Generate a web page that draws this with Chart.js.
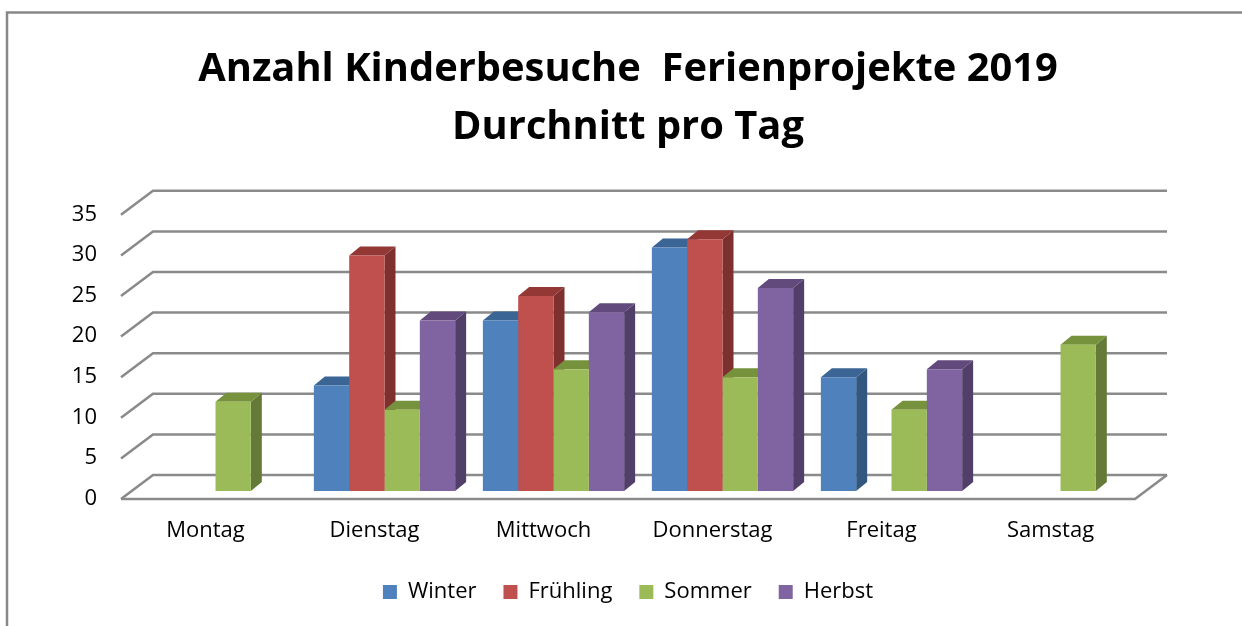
<!DOCTYPE html>
<html>
<head>
<meta charset="utf-8">
<script src="https://cdn.jsdelivr.net/npm/chart.js@4/dist/chart.umd.min.js"></script>
<style>
  html, body { margin: 0; padding: 0; background: #fff; }
  canvas { display: block; }
</style>
</head>
<body>
<canvas id="c" width="1242" height="626"></canvas>
<script>
// ---- data ----
const categories = ['Montag', 'Dienstag', 'Mittwoch', 'Donnerstag', 'Freitag', 'Samstag'];
const seriesNames = ['Winter', 'Frühling', 'Sommer', 'Herbst'];
const winter    = [null, 13, 21, 30, 14, null];
const fruehling = [null, 29, 24, 31, null, null];
const sommer    = [11, 10, 15, 14, 10, 18];
const herbst    = [null, 21, 22, 25, 15, null];
const yMin = 0, yMax = 35, yStep = 5;
const titleLines = ['Anzahl Kinderbesuche  Ferienprojekte 2019', 'Durchnitt pro Tag'];

// ---- styles ----
const FONT = "'Open Sans', 'Noto Sans', sans-serif";
const faces = [
  { front: '#4f81bd', top: '#3b6594', side: '#33587f' },
  { front: '#c0504d', top: '#943836', side: '#7d302e' },
  { front: '#9bbb59', top: '#77923d', side: '#657a38' },
  { front: '#8064a2', top: '#624a7c', side: '#513f69' }
];
const seriesData = [winter, fruehling, sommer, herbst];

function fitSize(text, weight, target) {
  const c = document.createElement('canvas').getContext('2d');
  c.font = weight + ' 100px ' + FONT;
  return 100 * target / c.measureText(text).width;
}
const titleSize = fitSize(titleLines[0], 'bold', 860);

const GRID = '#8a8a8a';
const FX = -10, FY = 8, BX = 22, BY = -16;   // wall depth offsets
const DX = 11, DY = -9;                       // bar depth

const threeD = {
  id: 'threeD',
  beforeDraw(chart) {
    const ctx = chart.ctx;
    ctx.save();
    ctx.fillStyle = '#fff';
    ctx.fillRect(0, 0, chart.width, chart.height);
    ctx.strokeStyle = '#888';
    ctx.lineWidth = 2.5;
    ctx.beginPath();
    ctx.moveTo(7, chart.height + 5);
    ctx.lineTo(7, 12.5);
    ctx.lineTo(chart.width + 5, 12.5);
    ctx.stroke();
    ctx.restore();
  },
  beforeDatasetsDraw(chart) {
    const ctx = chart.ctx;
    const ys = chart.scales.y;
    const ca = chart.chartArea;
    ctx.save();
    ctx.strokeStyle = GRID;
    ctx.lineWidth = 2.5;
    ctx.lineCap = 'butt';
    for (let v = yMin; v <= yMax; v += yStep) {
      const yb = ys.getPixelForValue(v);
      ctx.beginPath();
      ctx.moveTo(ca.left + FX, yb + FY);
      ctx.lineTo(ca.left + BX, yb + BY);
      ctx.lineTo(ca.right + BX, yb + BY);
      ctx.stroke();
    }
    const y0 = ys.getPixelForValue(yMin);
    ctx.beginPath();
    ctx.moveTo(ca.left + FX, y0 + FY);
    ctx.lineTo(ca.right + FX, y0 + FY);
    ctx.lineTo(ca.right + BX, y0 + BY);
    ctx.stroke();

    // bar tops and sides
    const n = categories.length;
    for (let i = 0; i < n; i++) {
      for (let d = 0; d < chart.data.datasets.length; d++) {
        const val = chart.data.datasets[d].data[i];
        if (val === null || val === undefined) continue;
        const el = chart.getDatasetMeta(d).data[i];
        const p = el.getProps(['x', 'y', 'base', 'width'], true);
        const l = p.x - p.width / 2, r = p.x + p.width / 2, t = p.y, b = p.base;
        ctx.fillStyle = faces[d].side;
        ctx.beginPath();
        ctx.moveTo(r, t); ctx.lineTo(r + DX, t + DY); ctx.lineTo(r + DX, b + DY); ctx.lineTo(r, b);
        ctx.closePath(); ctx.fill();
        ctx.fillStyle = faces[d].top;
        ctx.beginPath();
        ctx.moveTo(l, t); ctx.lineTo(l + DX, t + DY); ctx.lineTo(r + DX, t + DY); ctx.lineTo(r, t);
        ctx.closePath(); ctx.fill();
      }
    }
    ctx.restore();
  }
};

Chart.defaults.color = '#000';
Chart.defaults.font.family = FONT;

new Chart(document.getElementById('c'), {
  type: 'bar',
  data: {
    labels: categories,
    datasets: seriesNames.map((name, k) => ({
      label: name,
      data: seriesData[k],
      backgroundColor: faces[k].front,
      borderWidth: 0,
      categoryPercentage: 0.836,
      barPercentage: 1.0
    }))
  },
  options: {
    responsive: false,
    animation: false,
    devicePixelRatio: 1,
    layout: { padding: { left: 60, right: 46, top: 0, bottom: 13 } },
    plugins: {
      tooltip: { enabled: false },
      title: {
        display: true,
        text: titleLines,
        color: '#000',
        font: { family: FONT, weight: 'bold', size: titleSize, lineHeight: 58 / titleSize },
        padding: { top: 41, bottom: 49.8 }
      },
      legend: {
        position: 'bottom',
        labels: {
          boxWidth: 14,
          boxHeight: 14,
          padding: 27,
          color: '#000',
          font: { family: FONT, size: 22 }
        }
      }
    },
    scales: {
      x: {
        grid: { display: false, drawTicks: false },
        border: { display: false },
        ticks: { font: { family: FONT, size: 22 }, color: '#000', padding: 27, labelOffset: -10, maxRotation: 0 },
        afterFit(s) { s.height = 63; }
      },
      y: {
        min: yMin, max: yMax,
        grid: { display: false, drawTicks: false },
        border: { display: false },
        ticks: { stepSize: yStep, font: { family: FONT, size: 22 }, color: '#000', padding: 34, labelOffset: 7.5 },
        afterFit(s) { s.width = 71; }
      },
      yRight: {
        type: 'linear',
        position: 'right',
        min: yMin, max: yMax,
        grid: { display: false, drawTicks: false },
        border: { display: false },
        ticks: { display: false },
        afterFit(s) { s.width = 51; }
      }
    }
  },
  plugins: [threeD]
});
</script>
</body>
</html>
